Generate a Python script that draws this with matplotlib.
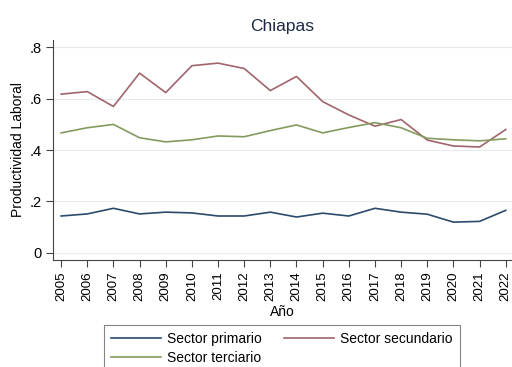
import matplotlib
matplotlib.use("Agg")
import matplotlib.pyplot as plt

plt.rcParams['font.family'] = ['Liberation Sans', 'DejaVu Sans']

years = list(range(2005, 2023))
primario = [0.143, 0.151, 0.173, 0.151, 0.158, 0.155, 0.143, 0.143, 0.158,
            0.139, 0.154, 0.143, 0.173, 0.158, 0.150, 0.119, 0.122, 0.165]
secundario = [0.618, 0.628, 0.570, 0.700, 0.624, 0.729, 0.739, 0.718, 0.632,
              0.687, 0.589, 0.537, 0.493, 0.519, 0.439, 0.416, 0.412, 0.480]
terciario = [0.467, 0.487, 0.500, 0.448, 0.432, 0.440, 0.455, 0.452, 0.476,
             0.498, 0.467, 0.488, 0.507, 0.487, 0.446, 0.440, 0.436, 0.444]
yticks = [0, 0.2, 0.4, 0.6, 0.8]
ytick_labels = ['0', '.2', '.4', '.6', '.8']

fig = plt.figure(figsize=(5.12, 3.67), dpi=100)
ax = fig.add_axes([0.103, 0.2916, 0.897, 0.6])

l1, = ax.plot(years, primario, color='#2b4a6c', lw=1.2, label='Sector primario')
l2, = ax.plot(years, secundario, color='#a0646c', lw=1.2, label='Sector secundario')
l3, = ax.plot(years, terciario, color='#849a5e', lw=1.2, label='Sector terciario')

ax.set_xlim(2004.68, 2022.24)
ax.set_ylim(-0.0285, 0.83)
ax.set_xticks(years)
ax.set_xticklabels([str(y) for y in years], rotation=90, fontsize=9.6)
ax.set_yticks(yticks)
ax.set_yticklabels(ytick_labels, fontsize=10.5)
ax.tick_params(direction='out', length=5, width=0.8, color='#444444', pad=3)
ax.grid(axis='y', color='#eaeaea', lw=0.8)
ax.set_axisbelow(True)
for s in ['top', 'right']:
    ax.spines[s].set_visible(False)
for s in ['left', 'bottom']:
    ax.spines[s].set_color('#444444')
    ax.spines[s].set_linewidth(0.8)

ax.set_ylabel('Productividad Laboral', fontsize=10, labelpad=3)
ax.set_xlabel('Año', fontsize=10, labelpad=3)
ax.set_title('Chiapas', fontsize=12.5, color='#1e2a44', pad=6)

# row-wise legend order: primario, secundario / terciario
leg = fig.legend([l1, l3, l2], [l1.get_label(), l3.get_label(), l2.get_label()],
                 loc='upper center', bbox_to_anchor=(282 / 512, 1 - 325 / 367),
                 ncol=2, fontsize=10, frameon=True, fancybox=False,
                 handlelength=3.6, columnspacing=1.6, borderpad=0.5,
                 borderaxespad=0, labelspacing=0.34, handletextpad=0.45)
leg.get_frame().set_edgecolor('#666666')
leg.get_frame().set_linewidth(0.8)

fig.savefig('out.png', dpi=100)
